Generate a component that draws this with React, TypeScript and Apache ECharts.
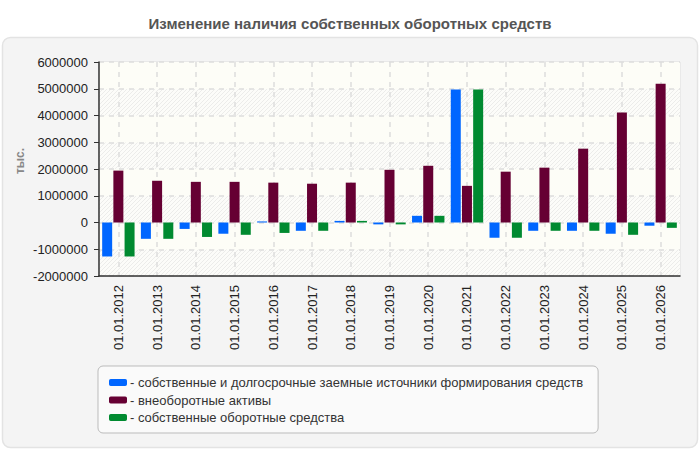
import React, { useEffect, useRef } from "react";
import * as echarts from "echarts";

const categories = [
  "01.01.2012", "01.01.2013", "01.01.2014", "01.01.2015", "01.01.2016",
  "01.01.2017", "01.01.2018", "01.01.2019", "01.01.2020", "01.01.2021",
  "01.01.2022", "01.01.2023", "01.01.2024", "01.01.2025", "01.01.2026",
];

const seriesNames = [
  "собственные и долгосрочные заемные источники формирования средств",
  "внеоборотные активы",
  "собственные оборотные средства",
];

const sourcesValues = [
  -1270000, -610000, -240000, -420000, 40000, -310000, 60000, -70000,
  250000, 4970000, -570000, -310000, -310000, -420000, -120000,
];

const nonCurrentValues = [
  1940000, 1560000, 1520000, 1520000, 1490000, 1450000, 1490000, 1970000,
  2120000, 1370000, 1900000, 2050000, 2760000, 4110000, 5190000,
];

const workingCapitalValues = [
  -1270000, -610000, -540000, -460000, -390000, -310000, 60000, -70000,
  250000, 4970000, -570000, -310000, -310000, -460000, -200000,
];

const yTicks = { min: -2000000, max: 6000000, step: 1000000 };

const colors = ["#0066ff", "#660033", "#008a30"];

const FONT = "'Liberation Sans', Arial, sans-serif";

// Small tile with a faint diagonal stripe for the hatched bands.
function makeHatch(): string | null {
  try {
    const c = document.createElement("canvas");
    c.width = 4;
    c.height = 4;
    const ctx = c.getContext("2d");
    if (!ctx) return null;
    ctx.fillStyle = "#fcfcf9";
    ctx.fillRect(0, 0, 4, 4);
    ctx.fillStyle = "#ececea";
    for (let i = 0; i < 4; i++) {
      ctx.fillRect(i, 3 - i, 1, 1);
    }
    return c.toDataURL();
  } catch (e) {
    return null;
  }
}

export default function App() {
  const ref = useRef<HTMLDivElement>(null);

  useEffect(() => {
    if (!ref.current) return;
    const chart = echarts.init(ref.current, null, { renderer: "svg" });
    const hatch = makeHatch();
    const hatchFill: any = hatch
      ? { image: hatch, repeat: "repeat", imageWidth: 4, imageHeight: 4 }
      : "#f6f6f2";

    const values = [sourcesValues, nonCurrentValues, workingCapitalValues];

    chart.setOption({
      animation: false,
      backgroundColor: "#ffffff",
      textStyle: { fontFamily: FONT },
      title: {
        text: "Изменение наличия собственных оборотных средств",
        left: "center",
        top: 11,
        textStyle: {
          fontFamily: FONT,
          fontSize: 15,
          fontWeight: "bold",
          color: "#555555",
        },
      },
      graphic: [
        {
          type: "rect",
          z: -10,
          shape: { x: 2.5, y: 37.5, width: 695, height: 410, r: 8 },
          style: { fill: "#f4f4f4", stroke: "#e3e3e3", lineWidth: 1.5 },
        },
        {
          type: "text",
          z: 10,
          x: 20,
          y: 161,
          rotation: Math.PI / 2,
          style: {
            text: "тыс.",
            fill: "#888888",
            font: `bold 12px ${FONT}`,
            textAlign: "center",
            textVerticalAlign: "middle",
          },
        },
      ],
      legend: {
        orient: "vertical",
        left: 98,
        top: 366,
        padding: [10, 15, 9, 11],
        itemGap: 4.5,
        itemWidth: 18,
        itemHeight: 7,
        icon: "roundRect",
        backgroundColor: "#fafafa",
        borderColor: "#bbbbbb",
        borderWidth: 1,
        borderRadius: 5,
        formatter: (name: string) => "- " + name,
        textStyle: { fontFamily: FONT, fontSize: 13, color: "#333333", padding: [0, 0, 0, -2] },
        data: seriesNames,
      },
      grid: {
        left: 99,
        right: 20,
        top: 62,
        bottom: 174,
        show: true,
        backgroundColor: "#fdfdf7",
        borderColor: "#dddddd",
        borderWidth: 1,
      },
      xAxis: {
        type: "category",
        data: categories,
        axisLine: { onZero: false, lineStyle: { color: "#333333", width: 1.5 } },
        axisTick: { alignWithLabel: true, length: 5, lineStyle: { color: "#333333" } },
        axisLabel: {
          rotate: 90,
          margin: 9,
          fontSize: 13,
          color: "#222222",
          fontFamily: FONT,
        },
        splitLine: {
          show: true,
          alignWithLabel: true,
          lineStyle: { color: "#dddddd", type: [5, 5], width: 1.5 },
        },
      },
      yAxis: {
        type: "value",
        min: yTicks.min,
        max: yTicks.max,
        interval: yTicks.step,
        axisLine: { show: true, lineStyle: { color: "#333333", width: 1.5 } },
        axisTick: { show: true, length: 5, lineStyle: { color: "#333333" } },
        axisLabel: {
          margin: 11,
          fontSize: 13,
          color: "#222222",
          fontFamily: FONT,
          formatter: (v: number) => String(v),
        },
        splitLine: {
          show: true,
          lineStyle: { color: "#dddddd", type: [5, 5], width: 1.5 },
        },
        splitArea: {
          show: true,
          areaStyle: { color: [hatchFill, "#fdfdf7"] },
        },
      },
      series: seriesNames.map((name, i) => ({
        name,
        type: "bar",
        data: values[i],
        barWidth: 10,
        barGap: "12%",
        itemStyle: { color: colors[i] },
      })),
    });

    return () => chart.dispose();
  }, []);

  return (
    <div
      ref={ref}
      style={{ position: "fixed", left: 0, top: 0, width: 700, height: 450 }}
    />
  );
}
